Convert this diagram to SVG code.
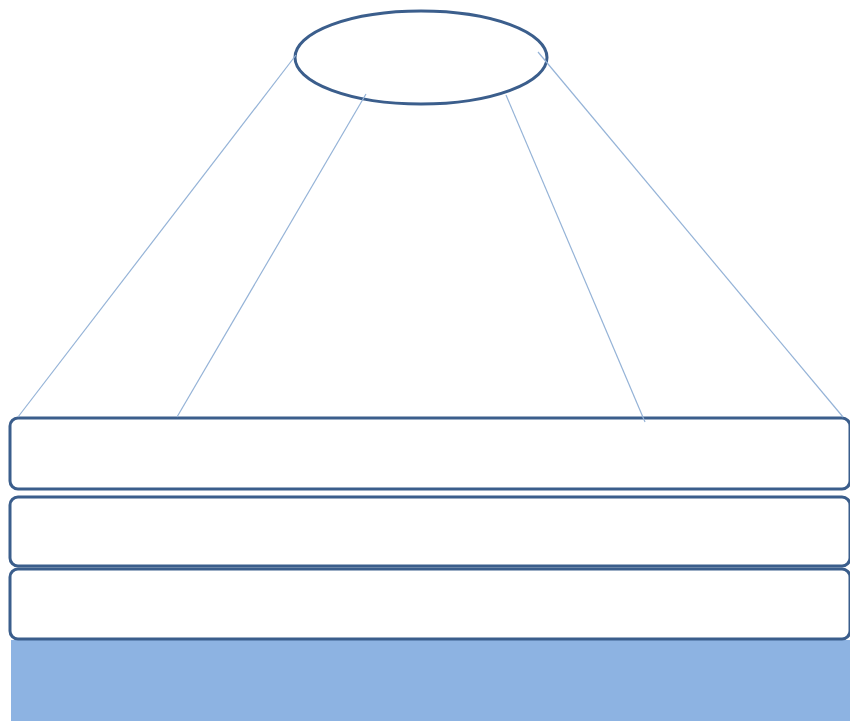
<svg xmlns="http://www.w3.org/2000/svg" width="850" height="721" viewBox="0 0 850 721">
<style>
.box{fill:#ffffff;stroke:#3B5E8C;stroke-width:3}
.conn{stroke:#95B3D7;stroke-width:1.2;fill:none}
</style>
<rect width="850" height="721" fill="#ffffff"/>
<g id="base"><rect x="11" y="640" width="839" height="81" fill="#8DB3E2"/></g>
<g id="layer1"><rect class="box" x="10" y="418" width="840" height="71" rx="8"/></g>
<g id="layer2"><rect class="box" x="10" y="497" width="840" height="69" rx="8"/></g>
<g id="layer3"><rect class="box" x="10" y="569" width="840" height="70" rx="8"/></g>
<g id="top"><ellipse class="box" cx="421" cy="57.5" rx="126" ry="46.5"/></g>
<g id="connectors">
<line class="conn" x1="296" y1="55" x2="18" y2="417"/>
<line class="conn" x1="366" y1="94" x2="177" y2="417"/>
<line class="conn" x1="506" y1="95" x2="645" y2="422"/>
<line class="conn" x1="538" y1="52" x2="843" y2="417"/>
</g>
</svg>
